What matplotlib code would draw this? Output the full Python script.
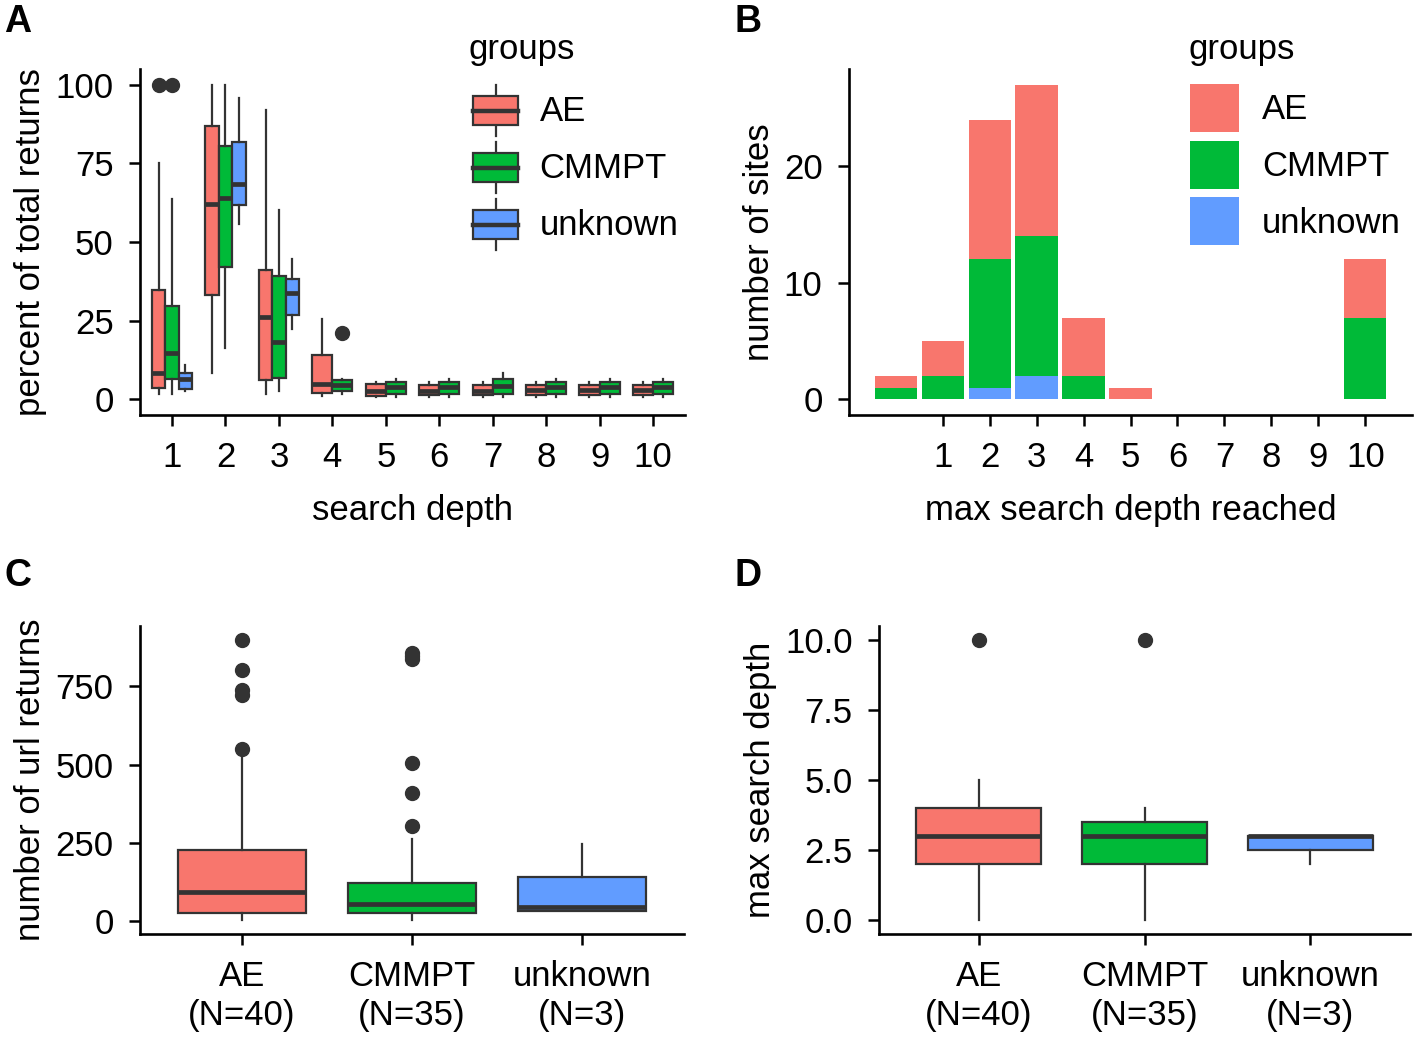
import matplotlib

matplotlib.use("Agg")
import matplotlib.pyplot as plt
import numpy as np
from matplotlib.legend_handler import HandlerBase
from matplotlib.patches import Patch, Rectangle
from matplotlib.lines import Line2D

plt.rcParams["font.family"] = ["Liberation Sans", "DejaVu Sans"]

GROUPS = ["AE", "CMMPT", "unknown"]
COLORS = ["#F8766D", "#00BA38", "#619CFF"]
EDGE = "#333333"
GROUP_N = [40, 35, 3]

# panel A: (whislo, q1, med, q3, whishi) per search depth 1..10, None = group absent
DEPTHS = list(range(1, 11))
a_ae = [(1.8, 3.5, 8.4, 34.6, 75.1), (8.5, 33, 62, 87, 100), (1.8, 6, 26, 41, 92),
        (0.9, 2, 5, 14, 25.6), (0.6, 1.0, 2.7, 4.8, 5.6), (0.8, 1.3, 2.7, 4.6, 5.5),
        (0.8, 1.3, 2.7, 4.6, 5.6), (0.8, 1.3, 2.8, 4.6, 5.6), (0.8, 1.3, 2.8, 4.6, 5.6),
        (0.8, 1.3, 2.8, 4.6, 5.6)]
a_cmmpt = [(1.8, 6.4, 14.6, 29.7, 63.7), (16.4, 41.9, 63.9, 80.4, 100), (2.5, 6.9, 18.1, 39.2, 60.2),
           (1.8, 2.6, 4.5, 6.2, 6.4), (0.8, 1.6, 3.8, 5.6, 6.4), (0.8, 1.6, 3.8, 5.6, 6.4),
           (0.8, 1.8, 4.2, 6.4, 8.3), (0.8, 1.6, 3.8, 5.6, 6.4), (0.8, 1.6, 3.8, 5.6, 6.4),
           (0.8, 1.6, 3.8, 5.6, 6.4)]
a_unknown = [(2.7, 3.4, 6.4, 8.2, 10.9), (55.6, 61.8, 68.4, 81.8, 95.8), (22.4, 26.9, 33.8, 38.3, 44.7),
             None, None, None, None, None, None, None]
a_outliers = {"AE": {1: [100]}, "CMMPT": {1: [100], 4: [21]}}

# panel B: number of sites by max search depth reached (0..10)
B_DEPTHS = list(range(0, 11))
b_ae = [1, 3, 12, 13, 5, 1, 0, 0, 0, 0, 5]
b_cmmpt = [1, 2, 11, 12, 2, 0, 0, 0, 0, 0, 7]
b_unknown = [0, 0, 1, 2, 0, 0, 0, 0, 0, 0, 0]

# panel C: number of url returns per group
c_stats = [(3, 24.6, 91, 227, 525), (3, 24.6, 55.7, 120, 262), (33, 33, 44, 139, 246)]
c_outliers = [[549, 723, 739, 801, 898], [305, 409, 504, 836, 848, 857], []]

# panel D: max search depth per group
d_stats = [(0, 2, 3, 4, 5), (0, 2, 3, 3.5, 4), (2, 2.5, 3, 3, 3)]
d_outliers = [[10], [10], []]

FS = 25
W, H = 1416, 1037


def style_axis(ax):
    for s in ("top", "right"):
        ax.spines[s].set_visible(False)
    for s in ("left", "bottom"):
        ax.spines[s].set_linewidth(1.9)
        ax.spines[s].set_color("black")
    ax.tick_params(length=8, width=1.8, color="black", labelsize=FS, pad=11, labelcolor="black")


def box(ax, st, fl, pos, width, color):
    d = dict(whislo=st[0], q1=st[1], med=st[2], q3=st[3], whishi=st[4], fliers=fl)
    ax.bxp([d], positions=[pos], widths=[width], patch_artist=True, showcaps=False,
           boxprops=dict(facecolor=color, edgecolor=EDGE, linewidth=1.6),
           medianprops=dict(color=EDGE, linewidth=3.4, solid_capstyle="butt"),
           whiskerprops=dict(color=EDGE, linewidth=1.6),
           flierprops=dict(marker="o", markerfacecolor=EDGE, markeredgecolor=EDGE, markersize=10),
           manage_ticks=False)


class BoxKey(HandlerBase):
    def create_artists(self, legend, orig_handle, xdescent, ydescent, width, height, fontsize, trans):
        x0, y0 = -xdescent, -ydescent
        cx = x0 + width / 2
        r = Rectangle((x0, y0 + height * 0.25), width, height * 0.5, facecolor=orig_handle.get_facecolor(),
                      edgecolor=EDGE, lw=1.6, transform=trans)
        m = Line2D([x0, x0 + width], [y0 + height / 2] * 2, color=EDGE, lw=3.2, transform=trans)
        w1 = Line2D([cx, cx], [y0 + height * 0.75, y0 + height * 0.95], color=EDGE, lw=1.6, transform=trans)
        w2 = Line2D([cx, cx], [y0 + height * 0.05, y0 + height * 0.25], color=EDGE, lw=1.6, transform=trans)
        return [w1, w2, r, m]


fig = plt.figure(figsize=(W / 100, H / 100), dpi=100)


def add_axes(l, r, t, b):
    return fig.add_axes([l / W, 1 - b / H, (r - l) / W, (b - t) / H])


axA = add_axes(140, 685, 69, 415)
axB = add_axes(849, 1412, 69, 415)
axC = add_axes(140, 684, 626, 934)
axD = add_axes(879, 1410, 626, 934)

# ---- A
group_stats = dict(zip(GROUPS, [a_ae, a_cmmpt, a_unknown]))
for i, dep in enumerate(DEPTHS):
    present = [g for g in GROUPS if group_stats[g][i] is not None]
    slot = 0.75 / len(present)
    for k, g in enumerate(present):
        pos = dep - 0.375 + slot * (k + 0.5)
        fl = a_outliers.get(g, {}).get(dep, [])
        box(axA, group_stats[g][i], fl, pos, slot, COLORS[GROUPS.index(g)])
axA.set_xlim(0.4, 10.6)
axA.set_ylim(-5, 105)
axA.set_xticks(DEPTHS)
axA.set_yticks([0, 25, 50, 75, 100])
axA.set_xlabel("search depth", fontsize=FS, labelpad=14)
axA.set_ylabel("percent of total returns", fontsize=FS, labelpad=6)
style_axis(axA)
hA = [Patch(facecolor=c) for c in COLORS]
axA.legend(hA, GROUPS, handler_map={Patch: BoxKey()}, fontsize=FS, frameon=False,
           loc="upper left", bbox_to_anchor=(473 / W, 1 - 82 / H), bbox_transform=fig.transFigure,
           handlelength=1.3, handleheight=2.15, labelspacing=0.0, handletextpad=0.62,
           borderpad=0, borderaxespad=0)
fig.text(468 / W, 1 - 50 / H, "groups", fontsize=FS, ha="left", va="center")

# ---- B
bottom = np.zeros(len(B_DEPTHS))
for vals, c in zip([b_unknown, b_cmmpt, b_ae], COLORS[::-1]):
    axB.bar(B_DEPTHS, vals, width=0.9, bottom=bottom, color=c, linewidth=0)
    bottom += np.array(vals)
tot = bottom.max()
axB.set_xlim(-0.45 - 0.05 * 10.9, 10.45 + 0.05 * 10.9)
axB.set_ylim(-0.05 * tot, tot * 1.05)
axB.set_xticks(B_DEPTHS[1:])
axB.set_yticks([0, 10, 20])
axB.set_xlabel("max search depth reached", fontsize=FS, labelpad=14)
axB.set_ylabel("number of sites", fontsize=FS, labelpad=6)
style_axis(axB)
hB = [Patch(facecolor=c, edgecolor="none") for c in COLORS]
axB.legend(hB, GROUPS, fontsize=FS, frameon=False,
           loc="upper left", bbox_to_anchor=(1190 / W, 1 - 84 / H),
           bbox_transform=fig.transFigure, handlelength=1.4, handleheight=1.75,
           labelspacing=0.25, handletextpad=0.68, borderpad=0, borderaxespad=0)
fig.text(1188 / W, 1 - 50 / H, "groups", fontsize=FS, ha="left", va="center")

# ---- C and D
cat_labels = [f"{g}\n(N={n})" for g, n in zip(GROUPS, GROUP_N)]
for ax, stats, outs in ((axC, c_stats, c_outliers), (axD, d_stats, d_outliers)):
    for k, (st, fl) in enumerate(zip(stats, outs)):
        box(ax, st, fl, k + 1, 0.75, COLORS[k])
    lo = min(s[0] for s in stats)
    hi = max([s[4] for s in stats] + [v for o in outs for v in o])
    r = hi - lo
    ax.set_ylim(lo - 0.05 * r, hi + 0.05 * r)
    ax.set_xlim(0.4, 3.6)
    ax.set_xticks([1, 2, 3])
    ax.set_xticklabels(cat_labels)
    style_axis(ax)
axC.set_yticks([0, 250, 500, 750])
axC.set_ylabel("number of url returns", fontsize=FS, labelpad=6)
axD.set_yticks([0, 2.5, 5, 7.5, 10])
axD.set_yticklabels(["0.0", "2.5", "5.0", "7.5", "10.0"])
axD.set_ylabel("max search depth", fontsize=FS, labelpad=6)

for lab, x, y in (("A", 4, 4), ("B", 735, 4), ("C", 4, 558), ("D", 735, 558)):
    fig.text(x / W, 1 - y / H, lab, fontsize=27, fontweight="bold", ha="left", va="top")

fig.savefig("out.png", dpi=100)
